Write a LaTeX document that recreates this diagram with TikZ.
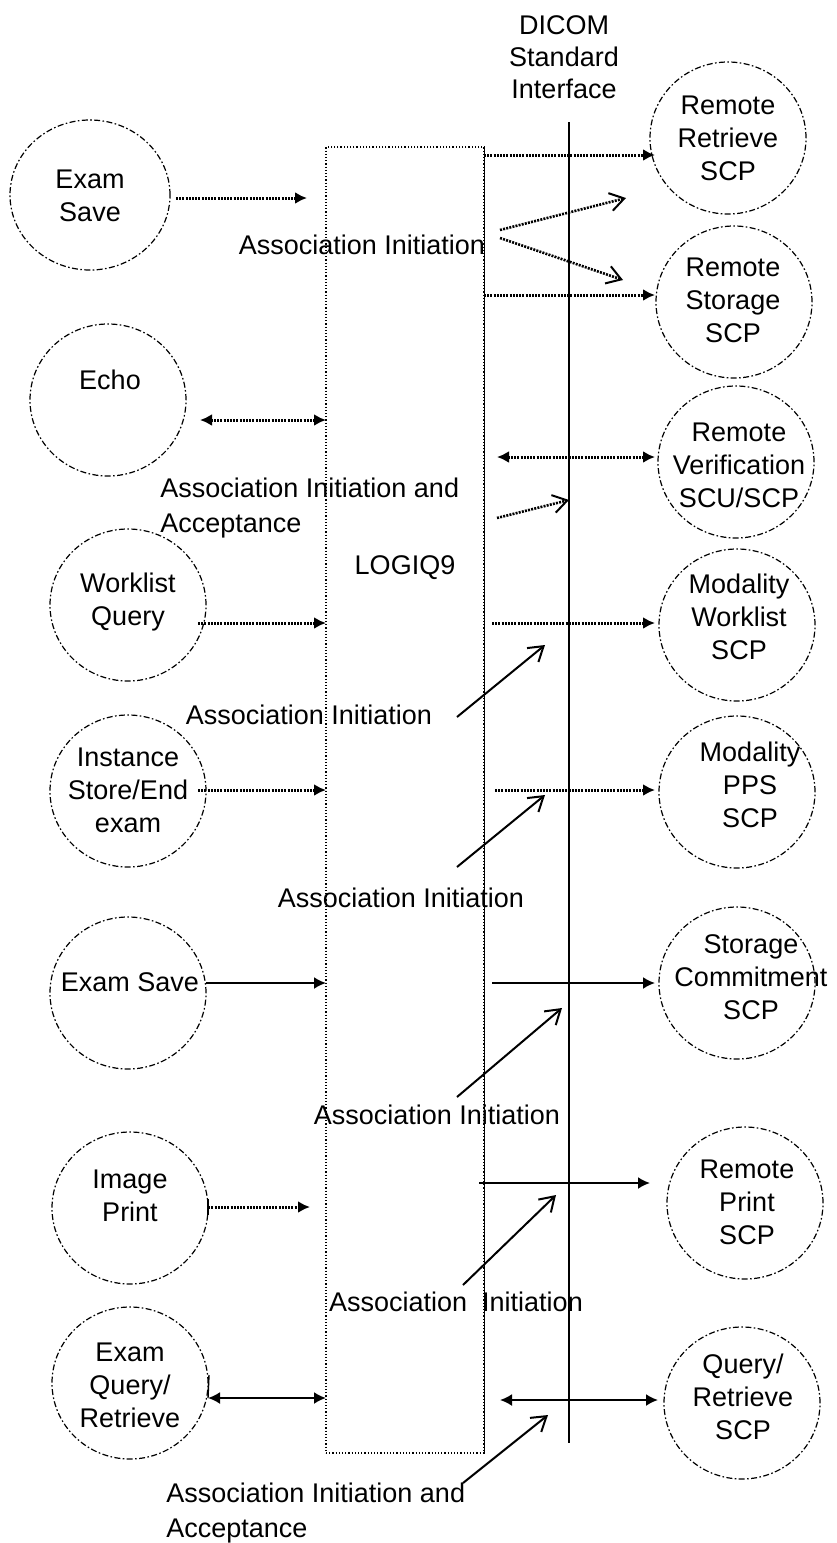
\documentclass[tikz,border=0pt]{standalone}
\usepackage{fontspec}
\setmainfont{Liberation Sans}
\usetikzlibrary{arrows.meta,shapes.geometric}
\begin{document}
\begin{tikzpicture}[x=0.5pt,y=-0.5pt,
  circ/.style={draw, ellipse, line width=0.6pt, dash pattern=on 3pt off 1.2pt on 0.8pt off 1.2pt, minimum width=78pt, minimum height=76pt, inner sep=0pt},
  txt/.style={font=\fontsize{13.5}{16.5}\selectfont, align=center, inner sep=0pt},
  ltxt/.style={font=\fontsize{13.5}{17.5}\selectfont, align=left, inner sep=0pt, anchor=north west},
  tipf/.tip={Latex[length=6pt,width=6pt]},
  dotarrow/.style={line width=1.5pt, dash pattern=on 1pt off 0.6pt, -tipf},
  dotboth/.style={line width=1.5pt, dash pattern=on 1pt off 0.6pt, tipf-tipf},
  solarrow/.style={line width=1pt, -tipf},
  solboth/.style={line width=1pt, tipf-tipf},
  assoc/.style={line width=1pt, -{Straight Barb[length=7pt,width=9pt,line width=1pt]}}
]
\useasboundingbox (0,0) rectangle (836,1543);

% LOGIQ9 box
\node[draw, densely dotted, line width=0.6pt, minimum width=79pt, minimum height=653pt, inner sep=0pt] (logiq) at (405,800) {};
\draw[line width=0.8pt] (logiq.north east) -- (logiq.south east);
\node[txt] (logiqlbl) at (405,568) {LOGIQ9};

% DICOM interface
\node[txt, font=\fontsize{13.5}{16}\selectfont] (dicom) at (564,57) {DICOM\\Standard\\Interface};
\coordinate (dtop) at (569,122);
\coordinate (dbot) at (569,1443);
\draw[line width=0.8pt] (dtop) -- (dbot);

% left circles
\node[circ, minimum width=80pt, minimum height=75pt] (es1) at (90,195) {};
\node[txt] (es1t) at (90,196) {Exam\\Save};
\node[circ] (echo) at (108,400) {};
\node[txt] (echot) at (110,380) {Echo};
\node[circ] (wq) at (128,605) {};
\node[txt] (wqt) at (128,602) {Worklist\\Query};
\node[circ] (inst) at (128,791) {};
\node[txt] (instt) at (128,790) {Instance\\Store/End\\exam};
\node[circ] (es2) at (128,993) {};
\node[txt] (es2t) at (130,982) {Exam Save};
\node[circ] (ip) at (130,1208) {};
\node[txt] (ipt) at (130,1196) {Image\\Print};
\node[circ] (eq) at (130,1383) {};
\node[txt] (eqt) at (130,1385) {Exam\\Query/\\Retrieve};

% right circles
\node[circ] (rr) at (728,138) {};
\node[txt] (rrt) at (728,138) {Remote\\Retrieve\\SCP};
\node[circ] (rs) at (734,302) {};
\node[txt] (rst) at (733,300) {Remote\\Storage\\SCP};
\node[circ] (rv) at (736,462) {};
\node[txt] (rvt) at (739,465) {Remote\\Verification\\SCU/SCP};
\node[circ] (mw) at (737,625) {};
\node[txt] (mwt) at (739,617) {Modality\\Worklist\\SCP};
\node[circ] (mp) at (737,792) {};
\node[txt] (mpt) at (750,785) {Modality\\PPS\\SCP};
\node[circ] (sc) at (737,983) {};
\node[txt] (sct) at (751,977) {Storage\\Commitment\\SCP};
\node[circ] (rp) at (745,1203) {};
\node[txt] (rpt) at (747,1202) {Remote\\Print\\SCP};
\node[circ] (qr) at (742,1403) {};
\node[txt] (qrt) at (743,1397) {Query/\\Retrieve\\SCP};

% association labels
\node[txt] (ai1) at (362,245) {Association Initiation};
\node[ltxt] (aia1) at (160,478) {Association Initiation and\\Acceptance};
\node[txt] (ai2) at (309,715) {Association Initiation};
\node[txt] (ai3) at (401,898) {Association Initiation};
\node[txt] (ai4) at (437,1115) {Association Initiation};
\node[txt] (ai5) at (456,1302) {Association\ \ Initiation};
\node[ltxt] (aia2) at (166,1483) {Association Initiation and\\Acceptance};

% left arrows
\coordinate (a1s) at (176,198); \coordinate (a1e) at (307,198);
\draw[dotarrow] (a1s) -- (a1e);
\coordinate (a2s) at (200,420); \coordinate (a2e) at (326,420);
\draw[dotboth] (a2s) -- (a2e);
\coordinate (a3s) at (198,623); \coordinate (a3e) at (326,623);
\draw[dotarrow] (a3s) -- (a3e);
\coordinate (a4s) at (198,790); \coordinate (a4e) at (326,790);
\draw[dotarrow] (a4s) -- (a4e);
\coordinate (a5s) at (206,983); \coordinate (a5e) at (326,983);
\draw[solarrow] (a5s) -- (a5e);
\coordinate (a6s) at (207,1207); \coordinate (a6e) at (310,1207);
\draw[line width=1.5pt, dash pattern=on 1pt off 0.6pt, {Bar[width=8pt,line width=0.8pt]}-tipf] (a6s) -- (a6e);
\coordinate (a7s) at (208,1398); \coordinate (a7e) at (326,1398);
\draw[solboth] (a7s) -- (a7e);
\coordinate (a7t) at (209,1375);
\draw[line width=0.7pt] (a7t) -- (a7s);

% right arrows
\coordinate (b1s) at (484,155); \coordinate (b1e) at (655,155);
\draw[dotarrow] (b1s) -- (b1e);
\coordinate (b2s) at (484,295); \coordinate (b2e) at (655,295);
\draw[dotarrow] (b2s) -- (b2e);
\coordinate (b3s) at (497,457); \coordinate (b3e) at (655,457);
\draw[dotboth] (b3s) -- (b3e);
\coordinate (b4s) at (492,623); \coordinate (b4e) at (655,623);
\draw[dotarrow] (b4s) -- (b4e);
\coordinate (b5s) at (495,790); \coordinate (b5e) at (655,790);
\draw[dotarrow] (b5s) -- (b5e);
\coordinate (b6s) at (492,983); \coordinate (b6e) at (655,983);
\draw[solarrow] (b6s) -- (b6e);
\coordinate (b7s) at (479,1183); \coordinate (b7e) at (650,1183);
\draw[solarrow] (b7s) -- (b7e);
\coordinate (b8s) at (500,1400); \coordinate (b8e) at (658,1400);
\draw[solboth] (b8s) -- (b8e);

% association arrows
\coordinate (c1s) at (500,230); \coordinate (c1e) at (626,198);
\draw[assoc, dash pattern=on 1pt off 0.6pt, line width=1.3pt] (c1s) -- (c1e);
\coordinate (c2s) at (500,238); \coordinate (c2e) at (623,280);
\draw[assoc, dash pattern=on 1pt off 0.6pt, line width=1.3pt] (c2s) -- (c2e);
\coordinate (c3s) at (497,518); \coordinate (c3e) at (569,500);
\draw[assoc, dash pattern=on 1pt off 0.6pt, line width=1.3pt] (c3s) -- (c3e);
\coordinate (c4s) at (457,717); \coordinate (c4e) at (545,645);
\draw[assoc] (c4s) -- (c4e);
\coordinate (c5s) at (457,867); \coordinate (c5e) at (545,795);
\draw[assoc] (c5s) -- (c5e);
\coordinate (c6s) at (457,1097); \coordinate (c6e) at (562,1008);
\draw[assoc] (c6s) -- (c6e);
\coordinate (c7s) at (463,1285); \coordinate (c7e) at (556,1195);
\draw[assoc] (c7s) -- (c7e);
\coordinate (c8s) at (463,1483); \coordinate (c8e) at (548,1415);
\draw[assoc] (c8s) -- (c8e);
\end{tikzpicture}
\end{document}
